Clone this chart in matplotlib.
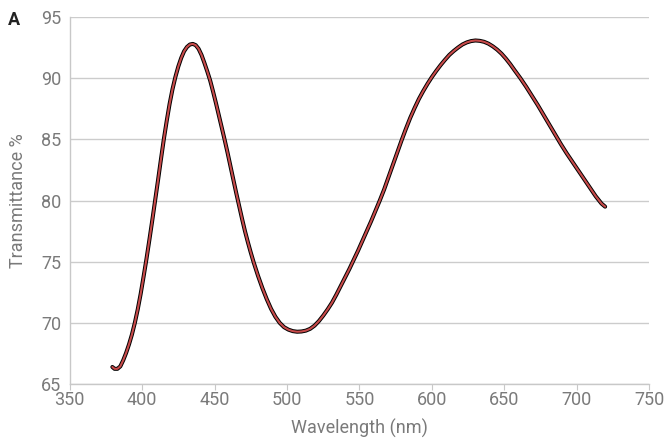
import matplotlib
matplotlib.use("Agg")
import matplotlib.pyplot as plt

wavelength = [379.5, 381, 383, 385, 387, 389, 391, 393, 395, 397, 399, 401, 403, 405, 407, 409,
              411, 413, 415, 417, 419, 421, 423, 425, 427, 429, 431, 433, 435, 437, 439, 441,
              443, 445, 447, 449, 451, 453, 455, 457, 459, 461, 463, 465, 467, 469, 471, 473,
              475, 477, 480, 483, 486, 489, 492, 495, 498, 501, 504, 507, 510, 513, 516, 519,
              522, 525, 528, 531, 534, 537, 540, 543, 546, 549, 552, 555, 558, 561, 564, 567,
              570, 573, 576, 579, 582, 585, 588, 591, 594, 597, 600, 603, 606, 609, 612, 615,
              618, 621, 624, 627, 630, 633, 636, 639, 642, 645, 648, 651, 654, 657, 661, 665,
              669, 673, 677, 681, 685, 689, 693, 697, 701, 705, 709, 713, 717, 719.5]
transmittance = [66.4, 66.25, 66.25, 66.45, 66.95, 67.55, 68.25, 69.05, 70.0, 71.1, 72.35, 73.75, 75.2, 76.75, 78.35, 80.0,
                 81.65, 83.35, 85.0, 86.5, 87.9, 89.1, 90.1, 90.95, 91.65, 92.2, 92.55, 92.75, 92.8, 92.7, 92.4, 91.9,
                 91.25, 90.55, 89.8, 88.9, 87.95, 86.95, 85.95, 84.95, 83.9, 82.8, 81.7, 80.6, 79.55, 78.5, 77.5, 76.6,
                 75.75, 74.95, 73.85, 72.85, 71.95, 71.15, 70.5, 70.0, 69.65, 69.45, 69.33, 69.28, 69.3, 69.37, 69.52, 69.78,
                 70.15, 70.6, 71.1, 71.65, 72.3, 73.0, 73.7, 74.4, 75.15, 75.9, 76.7, 77.5, 78.3, 79.15, 80.0, 80.9,
                 81.9, 82.9, 83.9, 84.9, 85.85, 86.75, 87.55, 88.3, 88.95, 89.55, 90.1, 90.6, 91.07, 91.5, 91.9, 92.22,
                 92.5, 92.75, 92.92, 93.03, 93.08, 93.05, 92.97, 92.82, 92.6, 92.33, 92.0, 91.6, 91.15, 90.65, 90.0, 89.3,
                 88.55, 87.8, 87.0, 86.2, 85.4, 84.6, 83.85, 83.15, 82.45, 81.75, 81.05, 80.35, 79.75, 79.5]
x_ticks = [350, 400, 450, 500, 550, 600, 650, 700, 750]
y_ticks = [65, 70, 75, 80, 85, 90, 95]

plt.rcParams['font.family'] = ['Roboto', 'DejaVu Sans']
grey = '#7a7a7a'

fig = plt.figure(figsize=(6.66, 4.41), dpi=100)
ax = fig.add_axes([0.1045, 0.129, 0.8705, 0.8325])

ax.plot(wavelength, transmittance, color='black', lw=2.9, solid_capstyle='round',
        solid_joinstyle='round', zorder=3)
ax.plot(wavelength, transmittance, color='#c84a4a', lw=1.5, solid_capstyle='round',
        solid_joinstyle='round', zorder=4)

ax.set_xlim(350, 750)
ax.set_ylim(65, 95)
ax.set_xticks(x_ticks)
ax.set_yticks(y_ticks)
ax.yaxis.grid(True, color='#cccccc', lw=1)
ax.set_axisbelow(True)
for s in ['top', 'right']:
    ax.spines[s].set_visible(False)
for s in ['left', 'bottom']:
    ax.spines[s].set_color('#c8c8c8')
    ax.spines[s].set_linewidth(1)
ax.tick_params(axis='x', colors='#c8c8c8', labelcolor=grey, labelsize=13, length=4, pad=1)
ax.tick_params(axis='y', length=0, labelcolor=grey, labelsize=13, pad=6)

ax.set_xlabel('Wavelength (nm)', color=grey, fontsize=13, labelpad=7)
ax.set_ylabel('Transmittance %', color=grey, fontsize=13, labelpad=10)
fig.text(0.012, 0.955, 'A', fontsize=13, fontweight='bold', color='#222222', va='center')

fig.savefig('out.png', dpi=100)
